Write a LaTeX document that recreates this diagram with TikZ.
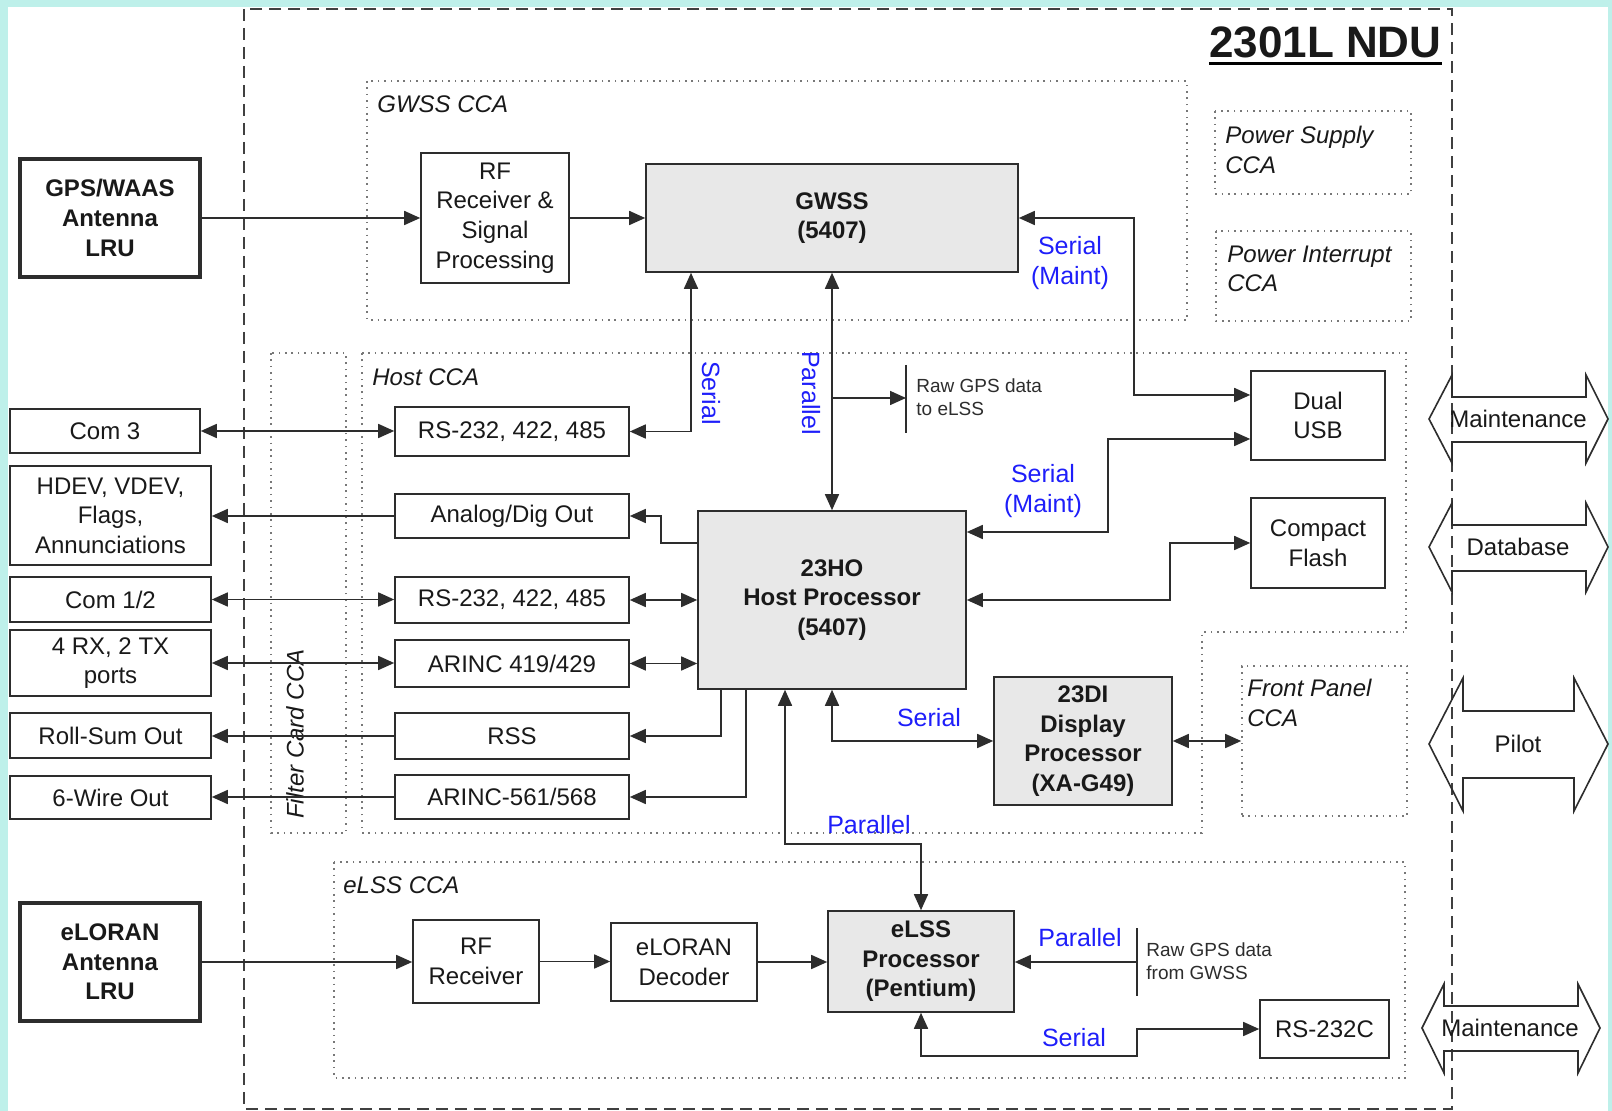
\documentclass[tikz,border=0pt]{standalone}
\usepackage{fontspec}
\setmainfont{Liberation Sans}
\usetikzlibrary{arrows.meta}
\definecolor{bgcyan}{RGB}{190,240,234}
\definecolor{linec}{RGB}{45,45,45}
\definecolor{procfill}{RGB}{232,232,232}
\definecolor{lblue}{RGB}{30,30,250}
\definecolor{dotc}{RGB}{120,120,120}
\begin{document}
\begin{tikzpicture}[x=0.5pt,y=-0.5pt,
  every node/.style={font=\fontsize{12}{14.8}\selectfont, text=black!90},
  box/.style={draw=linec, line width=0.8pt, inner sep=0pt, align=center, fill=white},
  proc/.style={box, fill=procfill, font=\fontsize{12}{14.8}\selectfont\bfseries},
  lru/.style={box, line width=1.6pt, font=\fontsize{12}{14.8}\selectfont\bfseries},
  cca/.style={draw=dotc, line width=0.8pt, dash pattern=on 0.8pt off 2.4pt},
  ccalabel/.style={font=\fontsize{12}{14.8}\selectfont\itshape, align=left, inner sep=0pt, anchor=west},
  conn/.style={draw=linec, line width=0.8pt},
  arr/.style={conn, -{Triangle[length=8pt,width=7pt]}},
  darr/.style={conn, {Triangle[length=8pt,width=7pt]}-{Triangle[length=8pt,width=7pt]}},
  lbl/.style={text=lblue, font=\fontsize{12.5}{15}\selectfont, align=center, inner sep=0pt},
  smalltxt/.style={font=\fontsize{9.5}{11.5}\selectfont, align=left, inner sep=0pt, anchor=west, text=linec},
  blockarrow/.style={draw=linec, line width=0.8pt},
  ndu/.style={draw=black!75, line width=1pt, dash pattern=on 6pt off 3.5pt},
]
\useasboundingbox (0,0) rectangle (1612,1111);
\fill[bgcyan] (0,0) rectangle (1612,1111);
\fill[white] (8,7) rectangle (1608,1111);

% NDU outline
\draw[ndu] (244,9) rectangle (1452,1109);
\node[font=\fontsize{22}{26}\selectfont\bfseries, anchor=base east, inner sep=0pt] (title) at (1442,58) {2301L NDU};
\draw[line width=1.5pt] (title.south west |- 0,64) -- (title.south east |- 0,64);

% CCA outlines
\draw[cca] (367,81) rectangle (1187,320);
\node[ccalabel] (gwsslbl) at (377,104) {GWSS CCA};
\draw[cca] (1215,111) rectangle (1411,194);
\node[ccalabel] (pslbl) at (1225,150) {Power Supply\\CCA};
\draw[cca] (1216,231) rectangle (1411,321);
\node[ccalabel] (pilbl) at (1227,269) {Power Interrupt\\CCA};
\draw[cca] (362,353) -- (1406,353) -- (1406,632) -- (1202,632) -- (1202,833) -- (362,833) -- cycle;
\node[ccalabel] (hostlbl) at (372,377) {Host CCA};
\draw[cca] (271,353) rectangle (346,833);
\node[ccalabel, rotate=90, anchor=center] (filterlbl) at (295,734) {Filter Card CCA};
\draw[cca] (334,862) rectangle (1405,1078);
\node[ccalabel] (elsslbl) at (343,885) {eLSS CCA};
\node[cca, minimum width=82.5pt, minimum height=75pt, inner sep=0pt] (fp) at (1324.5,741) {};
\node[ccalabel] (fplbl) at (1247,703) {Front Panel\\CCA};

% boxes
\node[lru, minimum width=90pt, minimum height=59pt] (gps) at (110,218) {GPS/WAAS\\Antenna\\LRU};
\node[box, minimum width=74pt, minimum height=65pt] (rf) at (495,218) {RF\\Receiver \&\\Signal\\Processing};
\node[proc, minimum width=186pt, minimum height=54pt] (gwss) at (832,218) {GWSS\\(5407)};

\node[box, minimum width=95pt, minimum height=22pt] (com3) at (105,431) {Com 3};
\node[box, minimum width=100.5pt, minimum height=49.5pt] (hdev) at (110.5,515.5) {HDEV, VDEV,\\Flags,\\Annunciations};
\node[box, minimum width=100.5pt, minimum height=22.5pt] (com12) at (110.5,599.5) {Com 1/2};
\node[box, minimum width=100.5pt, minimum height=33pt] (rx) at (110.5,663) {4 RX, 2 TX\\ports};
\node[box, minimum width=100.5pt, minimum height=22.5pt] (roll) at (110.5,735.5) {Roll-Sum Out};
\node[box, minimum width=100.5pt, minimum height=21.5pt] (wire6) at (110.5,797.5) {6-Wire Out};

\node[box, minimum width=117pt, minimum height=24.5pt] (rsA) at (512,431.5) {RS-232, 422, 485};
\node[box, minimum width=117pt, minimum height=22pt] (ana) at (512,516) {Analog/Dig Out};
\node[box, minimum width=117pt, minimum height=23pt] (rsB) at (512,600) {RS-232, 422, 485};
\node[box, minimum width=117pt, minimum height=23.5pt] (ar419) at (512,663.5) {ARINC 419/429};
\node[box, minimum width=117pt, minimum height=23pt] (rss) at (512,736) {RSS};
\node[box, minimum width=117pt, minimum height=22pt] (ar561) at (512,797) {ARINC-561/568};

\node[proc, minimum width=134pt, minimum height=89pt] (host) at (832,600) {23HO\\Host Processor\\(5407)};
\node[box, minimum width=67pt, minimum height=44.5pt] (usb) at (1318,415.5) {Dual\\USB};
\node[box, minimum width=67pt, minimum height=45pt] (cf) at (1318,543) {Compact\\Flash};
\node[proc, minimum width=89pt, minimum height=64pt] (di) at (1083,741) {23DI\\Display\\Processor\\(XA-G49)};

\node[lru, minimum width=90pt, minimum height=59pt] (eloran) at (110,962) {eLORAN\\Antenna\\LRU};
\node[box, minimum width=63pt, minimum height=41.5pt] (rfr) at (476,961.5) {RF\\Receiver};
\node[box, minimum width=73pt, minimum height=39pt] (dec) at (684,962) {eLORAN\\Decoder};
\node[proc, minimum width=93pt, minimum height=50.5pt] (elss) at (921,961.5) {eLSS\\Processor\\(Pentium)};
\node[box, minimum width=64.5pt, minimum height=29pt] (rs232c) at (1324.5,1029) {RS-232C};

% connectors
\draw[arr] (gps.east) -- (rf.west);
\draw[arr] (rf.east) -- (gwss.west);
\draw[darr] (gwss.east) -| (1134,395) -- (usb.west |- 0,395);
\draw[darr] (rsA.east) -| (gwss.south -| 691,0);
\draw[darr] (gwss.south) -- (host.north);
\coordinate (rawAstart) at (832,398);
\coordinate (rawA) at (906,398);
\draw[arr] (rawAstart) -- (rawA);
\draw[conn] (906,365) -- (906,433);
\node[smalltxt] (raw1) at (916,397) {Raw GPS data\\to eLSS};

\draw[darr] (com3.east) -- (rsA.west |- com3.east);
\draw[arr] (ana.west) -- (hdev.east |- ana.west);
\draw[arr] (host.west |- 0,543) -- (661,543) |- (ana.east);
\draw[darr] (com12.east) -- (rsB.west |- com12.east);
\draw[darr] (rsB.east) -- (host.west |- rsB.east);
\draw[darr] (rx.east) -- (ar419.west |- rx.east);
\draw[darr] (ar419.east) -- (host.west |- ar419.east);
\draw[arr] (rss.west) -- (roll.east |- rss.west);
\draw[arr] (host.south -| 721,0) |- (rss.east);
\draw[arr] (ar561.west) -- (wire6.east |- ar561.west);
\draw[arr] (host.south -| 746,0) |- (ar561.east);
\draw[darr] (host.east |- 0,532) -| (1108,439) -- (usb.west |- 0,439);
\draw[darr] (host.east) -| (1170,543) -- (cf.west);
\draw[darr] (host.south) |- (di.west);
\draw[darr] (di.east) -- (fp.west);
\draw[darr] (host.south -| 785,0) |- (elss.north |- 0,844) -- (elss.north);
\coordinate (rawB) at (1137,962);
\draw[arr] (rawB) -- (elss.east |- rawB);
\draw[conn] (1137,928) -- (1137,996);
\node[smalltxt] (raw2) at (1146,961) {Raw GPS data\\from GWSS};
\draw[darr] (elss.south) |- (1137,1056) |- (rs232c.west);
\draw[arr] (eloran.east) -- (rfr.west |- eloran.east);
\draw[arr] (rfr.east) -- (dec.west |- rfr.east);
\draw[arr] (dec.east) -- (elss.west |- dec.east);

% blue labels
\node[lbl] (l1) at (1070,263) {Serial\\(Maint)};
\node[lbl, rotate=-90] (l2) at (711,393) {Serial};
\node[lbl, rotate=-90] (l3) at (811,393) {Parallel};
\node[lbl] (l4) at (1043,491) {Serial\\(Maint)};
\node[lbl] (l5) at (929,718) {Serial};
\node[lbl] (l6) at (869,825) {Parallel};
\node[lbl] (l7) at (1080,938) {Parallel};
\node[lbl] (l8) at (1074,1038) {Serial};

% external interface block arrows
\draw[blockarrow] (1429,419) -- (1452,375) -- (1452,397) -- (1586,397) -- (1586,375) -- (1608,419) -- (1586,463) -- (1586,442) -- (1452,442) -- (1452,463) -- cycle;
\node (ba1) at (1518,419) {Maintenance};
\draw[blockarrow] (1429,547) -- (1452,503) -- (1452,525) -- (1586,525) -- (1586,503) -- (1608,547) -- (1586,592) -- (1586,571) -- (1452,571) -- (1452,592) -- cycle;
\node (ba2) at (1518,547) {Database};
\draw[blockarrow] (1429,744) -- (1463,678) -- (1463,711) -- (1574,711) -- (1574,678) -- (1608,744) -- (1574,811) -- (1574,778) -- (1463,778) -- (1463,811) -- cycle;
\node (ba3) at (1518,744) {Pilot};
\draw[blockarrow] (1422,1028) -- (1444,984) -- (1444,1006) -- (1578,1006) -- (1578,984) -- (1600,1028) -- (1578,1073) -- (1578,1051) -- (1444,1051) -- (1444,1073) -- cycle;
\node (ba4) at (1510,1028) {Maintenance};
\end{tikzpicture}
\end{document}
